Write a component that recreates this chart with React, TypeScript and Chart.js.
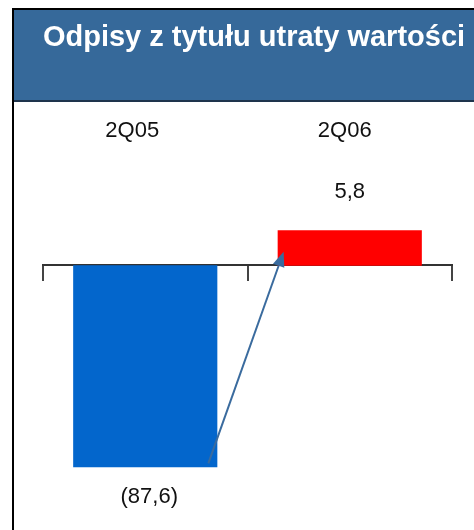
import React, { useEffect, useRef } from "react";
import { Chart, registerables } from "chart.js";

Chart.register(...registerables);

const title = "Odpisy z tytułu utraty wartości";
const categories = ["2Q05", "2Q06"];
const values = [-87.6, 5.8];
const valueLabels = ["(87,6)", "5,8"];
const barColors = ["#0366CC", "#FF0000"];

const decorPlugin = {
  id: "decor",
  beforeDraw(chart: any) {
    const ctx = chart.ctx;
    ctx.save();
    // header
    ctx.fillStyle = "#36699A";
    ctx.fillRect(14, 10, 460, 90);
    ctx.fillStyle = "#1E344C";
    ctx.fillRect(14, 100, 460, 2);
    // frame
    ctx.fillStyle = "#000000";
    ctx.fillRect(12, 8, 462, 2);
    ctx.fillRect(12, 8, 2, 522);
    // title
    ctx.fillStyle = "#FFFFFF";
    ctx.font = 'bold 29px "Liberation Sans", Arial, sans-serif';
    ctx.textAlign = "center";
    ctx.textBaseline = "alphabetic";
    ctx.fillText(title, 254, 46);
    ctx.restore();
  },
  afterDatasetsDraw(chart: any) {
    const ctx = chart.ctx;
    const xs = chart.scales.x;
    ctx.save();
    ctx.fillStyle = "#111111";
    ctx.font = '22px "Liberation Sans", Arial, sans-serif';
    ctx.textAlign = "center";
    ctx.textBaseline = "middle";
    const catOffsets = [-13, -5];
    categories.forEach((c, i) => {
      ctx.fillText(c, xs.getPixelForValue(i) + catOffsets[i], 131);
    });
    const blue = chart.getDatasetMeta(0).data[0];
    const red = chart.getDatasetMeta(1).data[1];
    if (blue && red) {
      const b = blue.getProps(["x", "y", "base", "width"], true);
      const r = red.getProps(["x", "y", "base", "width"], true);
      ctx.fillText(valueLabels[0], b.x + 4, b.y + 30);
      ctx.fillText(valueLabels[1], r.x, r.y - 38);
      // arrow
      const x1 = b.x + b.width / 2 - 9;
      const y1 = b.y - 4;
      const x2 = r.x - r.width / 2 + 6;
      const y2 = r.base - 14;
      const ang = Math.atan2(y2 - y1, x2 - x1);
      const headLen = 15;
      const headW = 6;
      const bx = x2 - headLen * Math.cos(ang);
      const by = y2 - headLen * Math.sin(ang);
      ctx.strokeStyle = "#3A6B9E";
      ctx.fillStyle = "#3A6B9E";
      ctx.lineWidth = 2;
      ctx.beginPath();
      ctx.moveTo(x1, y1);
      ctx.lineTo(bx, by);
      ctx.stroke();
      ctx.beginPath();
      ctx.moveTo(x2, y2);
      ctx.lineTo(bx + headW * Math.sin(ang), by - headW * Math.cos(ang));
      ctx.lineTo(bx - headW * Math.sin(ang), by + headW * Math.cos(ang));
      ctx.closePath();
      ctx.fill();
    }
    ctx.restore();
  },
};

export default function App() {
  const ref = useRef<HTMLCanvasElement | null>(null);
  useEffect(() => {
    if (!ref.current) return;
    const chart = new Chart(ref.current, {
      type: "bar",
      data: {
        labels: categories,
        datasets: [
          {
            data: [values[0], null],
            backgroundColor: barColors[0],
            yAxisID: "y",
            grouped: false,
            categoryPercentage: 1,
            barPercentage: 0.705,
          },
          {
            data: [null, values[1]],
            backgroundColor: barColors[1],
            yAxisID: "y2",
            grouped: false,
            categoryPercentage: 1,
            barPercentage: 0.705,
          },
        ],
      },
      options: {
        animation: false,
        responsive: false,
        maintainAspectRatio: false,
        layout: { padding: { left: 43, right: 22, top: 113, bottom: 11 } },
        plugins: { legend: { display: false }, tooltip: { enabled: false }, title: { display: false } },
        scales: {
          x: {
            position: { y: 0 },
            offset: true,
            grid: {
              display: true,
              offset: true,
              drawOnChartArea: false,
              drawTicks: true,
              tickLength: 15,
              color: "#444444",
              lineWidth: 2,
            },
            border: { display: true, color: "#333333", width: 2 },
            ticks: { display: false },
          },
          y: { display: false, min: -110, max: 66 },
          y2: { display: false, min: -41.5, max: 25 },
        },
      },
      plugins: [decorPlugin],
    } as any);
    return () => chart.destroy();
  }, []);
  return (
    <div style={{ position: "fixed", left: 0, top: 0, width: 474, height: 530, background: "#fff", overflow: "hidden" }}>
      <canvas ref={ref} width={474} height={530} style={{ display: "block", width: 474, height: 530 }} />
    </div>
  );
}
